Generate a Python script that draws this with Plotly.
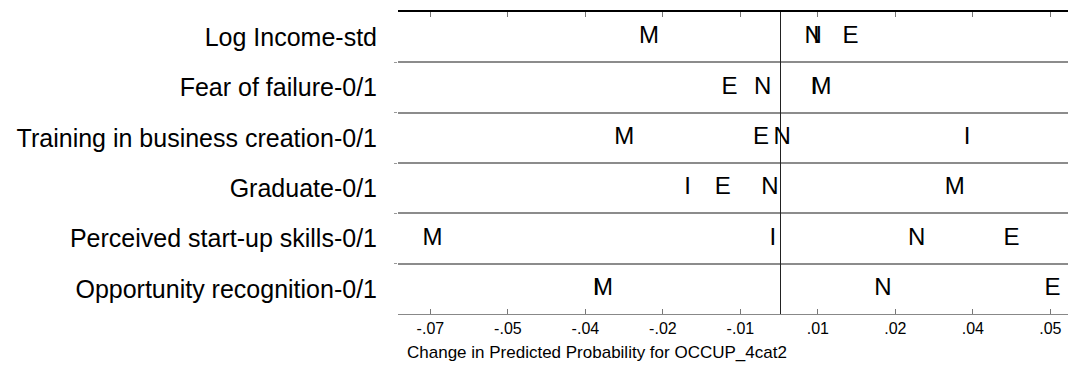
import plotly.graph_objects as go

variables = [
    "Log Income-std",
    "Fear of failure-0/1",
    "Training in business creation-0/1",
    "Graduate-0/1",
    "Perceived start-up skills-0/1",
    "Opportunity recognition-0/1",
]
outcomes = ["M", "N", "I", "E"]
# discrete change in predicted probability, per outcome, per variable (rows above)
change_M = [-0.0255, 0.0079, -0.0303, 0.0337, -0.0674, -0.0344]
change_N = [0.0063, -0.0035, 0.0003, -0.0021, 0.0263, 0.0198]
change_I = [0.0069, 0.0064, 0.0361, -0.0180, -0.0015, -0.0357]
change_E = [0.0135, -0.0099, -0.0038, -0.0112, 0.0447, 0.0526]
tick_values = [-0.0678 + 0.015 * i for i in range(9)]
tick_labels = ["-.07", "-.05", "-.04", "-.02", "-.01", ".01", ".02", ".04", ".05"]
x_title = "Change in Predicted Probability for OCCUP_4cat2"

FONT = "Liberation Sans, Arial, sans-serif"
rows = list(range(1, len(variables) + 1))
series = {"M": change_M, "N": change_N, "I": change_I, "E": change_E}

fig = go.Figure()
for name in outcomes:
    fig.add_trace(go.Scatter(
        x=series[name], y=rows, mode="text", text=[name] * len(rows),
        textposition="middle center",
        textfont=dict(family=FONT, size=24, color="black"),
        showlegend=False, hoverinfo="x+y",
    ))

xrange = [-0.07407, 0.05561]
fig.update_layout(
    width=1076, height=365,
    margin=dict(l=398, r=8, t=12, b=51),
    paper_bgcolor="white", plot_bgcolor="white",
    font=dict(family=FONT, color="black"),
    xaxis=dict(
        range=xrange, tickmode="array", tickvals=tick_values, ticktext=tick_labels,
        ticks="inside", ticklen=5, tickcolor="#777777", tickwidth=1,
        showline=True, linecolor="#888888", linewidth=1,
        showgrid=False, zeroline=True, zerolinecolor="#222222", zerolinewidth=1,
        tickfont=dict(size=16, color="black"),
    ),
    xaxis2=dict(
        range=xrange, overlaying="x", side="top", tickmode="array",
        tickvals=tick_values, showticklabels=False,
        ticks="inside", ticklen=5, tickcolor="#777777", tickwidth=1,
        showline=True, linecolor="black", linewidth=1.5,
        showgrid=False, zeroline=False,
    ),
    yaxis=dict(
        range=[6.5, 0.5], tickmode="array", tickvals=rows, ticktext=variables,
        ticks="", showline=False, showgrid=False, zeroline=False,
        tickfont=dict(size=25, color="black"), ticklabelstandoff=20,
        minor=dict(tickvals=[1.5, 2.5, 3.5, 4.5, 5.5], ticks="outside",
                   ticklen=3, tickcolor="#999999", showgrid=True,
                   gridcolor="#8c8c8c", gridwidth=1.5),
    ),
    annotations=[dict(
        text=x_title, xref="paper", yref="paper", x=0, y=0,
        xanchor="left", yanchor="middle", xshift=7, yshift=-38,
        showarrow=False, font=dict(size=17, color="black", family=FONT),
    )],
)
# dummy trace to activate top axis
fig.add_trace(go.Scatter(x=[None], y=[None], xaxis="x2", showlegend=False))
fig.write_html("out.html")
